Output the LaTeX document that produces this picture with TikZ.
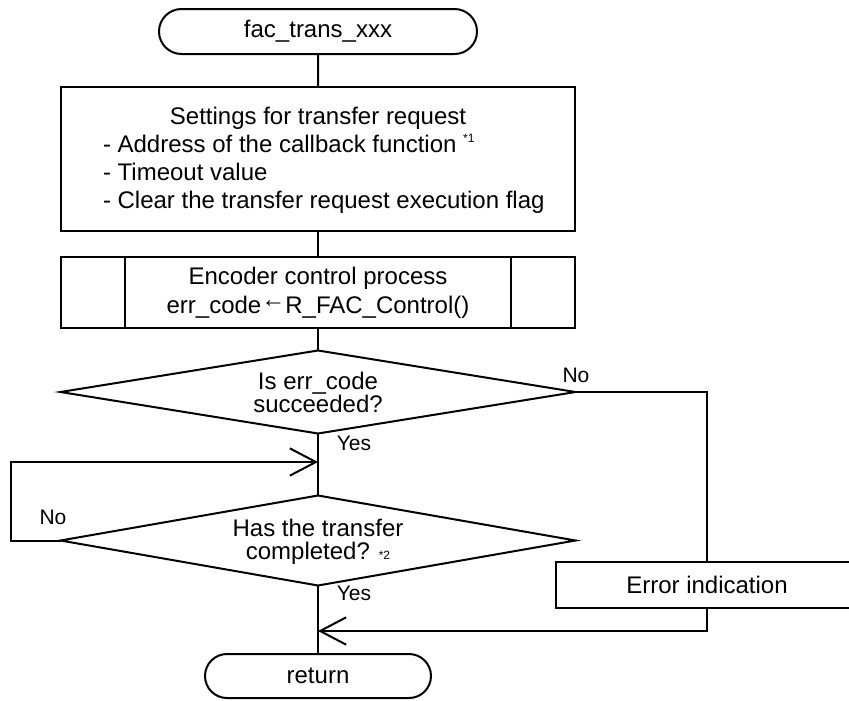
\documentclass[tikz,border=0pt]{standalone}
\usepackage{fontspec}
\setmainfont{Liberation Sans}
\usetikzlibrary{shapes.geometric,shapes.misc,arrows.meta}
\begin{document}
\begin{tikzpicture}[x=0.75pt,y=-0.75pt,
  line width=1.5pt,
  every node/.style={inner sep=0pt,outer sep=0pt},
  txt/.style={font=\fontsize{18pt}{21pt}\selectfont},
  lbl/.style={font=\fontsize{15.75pt}{18pt}\selectfont},
  term/.style={draw,rounded rectangle,font=\fontsize{18pt}{21pt}\selectfont},
  procbox/.style={draw,rectangle,minimum width=385.5pt},
  dec/.style={draw,diamond,minimum width=386.25pt},
  arr/.style={-{Straight Barb[length=19.5pt,width=20.5pt]}}
]
\useasboundingbox (0,0) rectangle (849,700);
\clip (0,0) rectangle (849,700);

% terminators
\node[term,minimum width=238.5pt,minimum height=33.75pt] (start) at (318,31.5) {fac\_trans\_xxx};
\node[term,minimum width=169.5pt,minimum height=33pt] (ret) at (318,676) {return};

% settings box
\node[procbox,minimum height=108pt] (set) at (318,159) {};
\node[txt] (settitle) at (318,118) {Settings for transfer request};
\node[txt,align=left,anchor=west] (setlist) at (103,174) {- Address of the callback function \raisebox{0.42em}{\fontsize{9pt}{9pt}\selectfont *1}\\- Timeout value\\- Clear the transfer request execution flag};

% predefined process
\node[procbox,minimum height=53.25pt] (enc) at (318,292.5) {};
\draw ([xshift=48pt]enc.north west) -- ([xshift=48pt]enc.south west);
\draw ([xshift=-48pt]enc.north east) -- ([xshift=-48pt]enc.south east);
\node[txt,align=center,font=\fontsize{18pt}{21.75pt}\selectfont] (enctext) at (318,292.5) {Encoder control process\\err\_code\raisebox{0.22em}{←}R\_FAC\_Control()};

% decisions
\node[dec,minimum height=62.25pt] (d1) at (318,392) {};
\node[txt,align=center,font=\fontsize{18pt}{15.75pt}\selectfont] (d1text) at (318,392.5) {Is err\_code\\succeeded?};
\node[dec,minimum height=67.5pt] (d2) at (318,540.5) {};
\node[txt,align=center,font=\fontsize{18pt}{17.25pt}\selectfont] (d2text) at (318,541.5) {Has the transfer\\completed? {\fontsize{9pt}{9pt}\selectfont *2}};

% error box
\node[draw,rectangle,minimum width=226.5pt,minimum height=34.5pt,txt] (err) at (707,585) {Error indication};

% junction points on the main line
\coordinate (j1) at (318,462);
\coordinate (j2) at (318,631);

% connectors
\draw (start) -- (set);
\draw (set) -- (enc);
\draw (enc) -- (d1);
\draw (d1.south) -- (d2.north);
\draw (d2.south) -- (ret.north);
\draw (d1.east) -| (err.north);
\draw[arr] (err.south) |- (j2);
\draw[arr] (d2.west) -- ++(-50,0) |- (j1);

% labels
\node[lbl] (no1) at (576,375.5) {No};
\node[lbl] (yes1) at (354,443) {Yes};
\node[lbl] (no2) at (53,517.5) {No};
\node[lbl] (yes2) at (354,593) {Yes};
\end{tikzpicture}
\end{document}
